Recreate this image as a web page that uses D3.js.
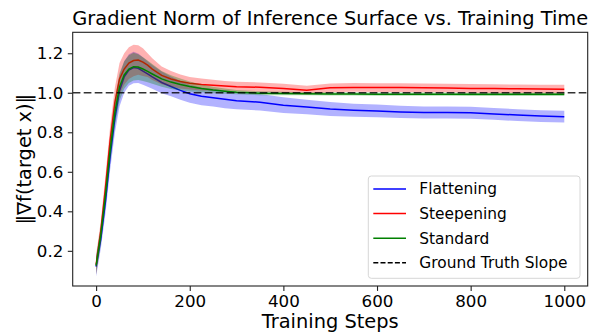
<!DOCTYPE html>
<html>
<head>
<meta charset="utf-8">
<script src="https://cdn.jsdelivr.net/npm/d3@7/dist/d3.min.js"></script>
<style>
  body { margin: 0; background: #fff; }
  svg { display: block; font-family: "DejaVu Sans", sans-serif; }
</style>
</head>
<body>
<svg id="chart" width="599" height="333"></svg>
<script>
// training steps where the curves were sampled
const steps = [0, 10, 20, 30, 40, 50, 60, 70, 80, 90, 100, 110, 120, 140, 160, 180, 200, 225, 250, 275,
  300, 350, 400, 450, 500, 550, 600, 650, 700, 750, 800, 850, 900, 950, 1000];

// mean gradient norm per run type
const flatMean = [0.12, 0.26, 0.45, 0.68, 0.87, 1.01, 1.08, 1.115, 1.128, 1.124, 1.11, 1.095, 1.08, 1.052, 1.032, 1.012, 0.995, 0.982, 0.975, 0.967,
  0.96, 0.952, 0.937, 0.928, 0.918, 0.912, 0.908, 0.903, 0.9, 0.9, 0.899, 0.893, 0.887, 0.882, 0.879];
const steepMean = [0.13, 0.30, 0.52, 0.76, 0.95, 1.07, 1.12, 1.15, 1.163, 1.166, 1.155, 1.14, 1.12, 1.088, 1.07, 1.057, 1.048, 1.042, 1.038, 1.034,
  1.031, 1.028, 1.022, 1.013, 1.025, 1.027, 1.026, 1.026, 1.025, 1.024, 1.022, 1.021, 1.02, 1.019, 1.018];
const stdMean = [0.125, 0.28, 0.48, 0.71, 0.90, 1.03, 1.09, 1.12, 1.132, 1.13, 1.12, 1.108, 1.095, 1.07, 1.054, 1.042, 1.032, 1.022, 1.014, 1.008,
  1.003, 0.998, 0.996, 0.995, 0.994, 0.994, 0.993, 0.993, 0.993, 0.993, 0.992, 0.992, 0.992, 0.992, 0.992];

// half width of the shaded spread
const flatSpread = [0.05, 0.05, 0.06, 0.07, 0.075, 0.08, 0.08, 0.08, 0.08, 0.075, 0.07, 0.065, 0.06, 0.055, 0.05, 0.047, 0.045, 0.045, 0.045, 0.045,
  0.044, 0.042, 0.04, 0.037, 0.035, 0.033, 0.032, 0.031, 0.03, 0.03, 0.03, 0.03, 0.03, 0.03, 0.03];
const steepSpread = [0.05, 0.05, 0.06, 0.07, 0.075, 0.08, 0.08, 0.08, 0.08, 0.075, 0.07, 0.06, 0.055, 0.045, 0.04, 0.035, 0.032, 0.03, 0.028, 0.026,
  0.025, 0.024, 0.023, 0.022, 0.022, 0.022, 0.022, 0.022, 0.022, 0.022, 0.022, 0.022, 0.022, 0.022, 0.022];
const stdSpread = [0.045, 0.05, 0.055, 0.065, 0.07, 0.07, 0.07, 0.07, 0.07, 0.065, 0.06, 0.055, 0.05, 0.04, 0.035, 0.03, 0.025, 0.02, 0.016, 0.013,
  0.011, 0.01, 0.009, 0.008, 0.008, 0.008, 0.008, 0.008, 0.008, 0.008, 0.008, 0.008, 0.008, 0.008, 0.008];

const seriesNames = ['Flattening', 'Steepening', 'Standard'];
const seriesColors = ['#0000ff', '#ff0000', '#008000'];
const groundTruth = 1.0;
const xTicks = [0, 200, 400, 600, 800, 1000];
const yTicks = [0.2, 0.4, 0.6, 0.8, 1.0, 1.2];

const series = [
  {name: seriesNames[0], color: seriesColors[0], mean: flatMean, spread: flatSpread},
  {name: seriesNames[1], color: seriesColors[1], mean: steepMean, spread: steepSpread},
  {name: seriesNames[2], color: seriesColors[2], mean: stdMean, spread: stdSpread},
];

const svg = d3.select('#chart');
const margin = {left: 72.7, right: 599 - 587.7, top: 32.3, bottom: 333 - 286};
const W = 599, H = 333;

const x = d3.scaleLinear().domain([-50, 1050]).range([margin.left, W - margin.right]);
const y = d3.scaleLinear().domain([0.022, 1.306]).range([H - margin.bottom, margin.top]);

svg.append('clipPath').attr('id', 'plot-clip')
  .append('rect')
  .attr('x', margin.left).attr('y', margin.top)
  .attr('width', W - margin.left - margin.right)
  .attr('height', H - margin.top - margin.bottom);

const plot = svg.append('g').attr('clip-path', 'url(#plot-clip)');

// bands + mean lines, one run type at a time
series.forEach(s => {
  const rows = steps.map((st, i) => ({st, m: s.mean[i], lo: s.mean[i] - s.spread[i], hi: s.mean[i] + s.spread[i]}));

  plot.append('path')
    .datum(rows)
    .attr('fill', s.color)
    .attr('fill-opacity', 0.3)
    .attr('d', d3.area().x(d => x(d.st)).y0(d => y(d.lo)).y1(d => y(d.hi)));

  plot.append('path')
    .datum(rows)
    .attr('fill', 'none')
    .attr('stroke', s.color)
    .attr('stroke-width', 1.5)
    .attr('d', d3.line().x(d => x(d.st)).y(d => y(d.m)));
});

// ground truth reference
plot.append('line')
  .attr('x1', margin.left).attr('x2', W - margin.right)
  .attr('y1', y(groundTruth)).attr('y2', y(groundTruth))
  .attr('stroke', '#000')
  .attr('stroke-opacity', 0.8)
  .attr('stroke-width', 1.6)
  .attr('stroke-dasharray', '7.7,3.3');

// axes
const xAxis = svg.append('g')
  .attr('transform', `translate(0,${H - margin.bottom})`)
  .call(d3.axisBottom(x).tickValues(xTicks).tickSize(4.9).tickPadding(4.5).tickFormat(d3.format('d')));
const yAxis = svg.append('g')
  .attr('transform', `translate(${margin.left},0)`)
  .call(d3.axisLeft(y).tickValues(yTicks).tickSize(4.9).tickPadding(4.5).tickFormat(d3.format('.1f')));

[xAxis, yAxis].forEach(a => {
  a.select('.domain').remove();
  a.selectAll('.tick line').attr('stroke', '#222').attr('stroke-width', 1.1);
  a.selectAll('.tick text')
    .attr('fill', '#000')
    .style('font-size', '16.7px')
    .style('font-family', '"DejaVu Sans", sans-serif');
});

// frame
svg.append('rect')
  .attr('x', margin.left).attr('y', margin.top)
  .attr('width', W - margin.left - margin.right)
  .attr('height', H - margin.top - margin.bottom)
  .attr('fill', 'none')
  .attr('stroke', '#222')
  .attr('stroke-width', 1.1);

const cx = (margin.left + W - margin.right) / 2;

svg.append('text')
  .attr('x', cx).attr('y', 25)
  .attr('text-anchor', 'middle')
  .style('font-size', '19.4px')
  .text('Gradient Norm of Inference Surface vs. Training Time');

svg.append('text')
  .attr('x', cx).attr('y', 328)
  .attr('text-anchor', 'middle')
  .style('font-size', '19.4px')
  .text('Training Steps');

svg.append('text')
  .attr('transform', `translate(24,${(margin.top + H - margin.bottom) / 2}) rotate(-90)`)
  .attr('text-anchor', 'middle')
  .attr('dy', '0.35em')
  .style('font-size', '19.4px')
  .text('‖∇f(target x)‖');

// legend
const legend = svg.append('g');
legend.append('rect')
  .attr('x', 368.3).attr('y', 176)
  .attr('width', 580 - 368.3).attr('height', 278.3 - 176)
  .attr('rx', 3)
  .attr('fill', '#fff').attr('fill-opacity', 0.8)
  .attr('stroke', '#d6d6d6');

const legendItems = series.map(s => ({name: s.name, color: s.color, dash: null}))
  .concat([{name: 'Ground Truth Slope', color: '#000', dash: '5,2.2'}]);

legendItems.forEach((it, i) => {
  const ly = 189 + i * 24.6;
  legend.append('line')
    .attr('x1', 373.3).attr('x2', 406)
    .attr('y1', ly).attr('y2', ly)
    .attr('stroke', it.color)
    .attr('stroke-width', it.dash ? 1.4 : 1.5)
    .attr('stroke-dasharray', it.dash);
  legend.append('text')
    .attr('x', 419.3).attr('y', ly)
    .attr('dy', '0.35em')
    .style('font-size', '15.4px')
    .text(it.name);
});
</script>
</body>
</html>
